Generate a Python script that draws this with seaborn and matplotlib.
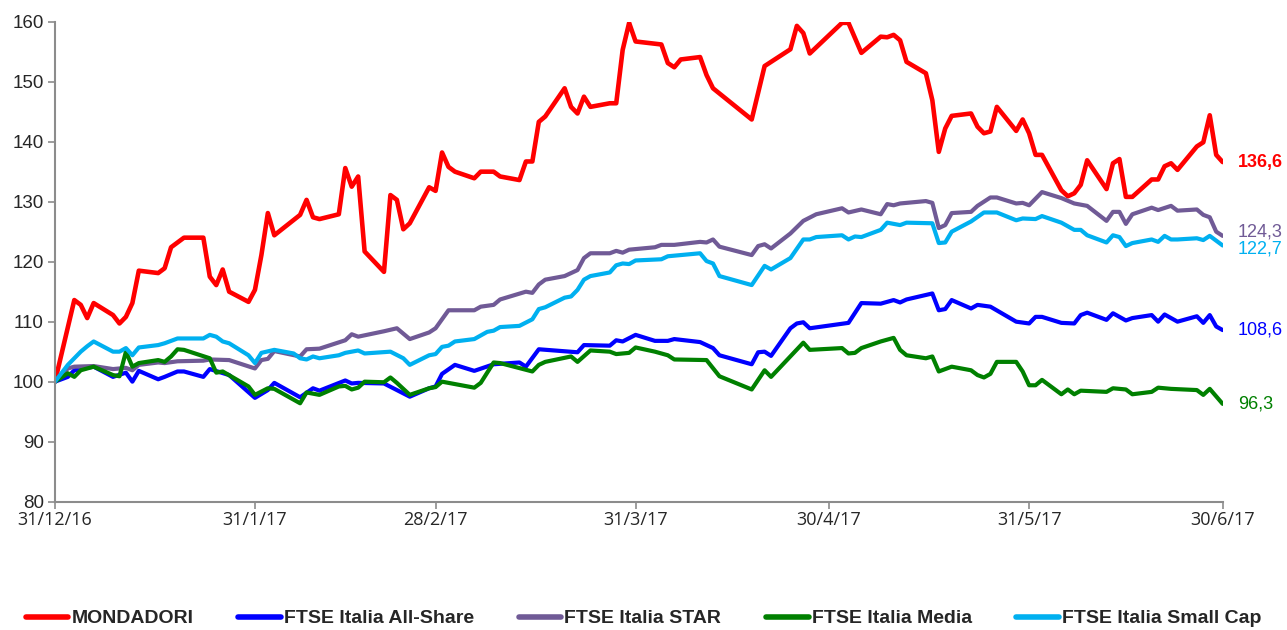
import matplotlib
matplotlib.use("Agg")
import matplotlib.pyplot as plt
import pandas as pd
import seaborn as sns

# days counted from 31/12/2016
START = "2016-12-31"

mondadori_days = [0, 3, 4, 5, 6, 9, 10, 11, 12, 13, 16, 17, 18, 20, 23, 24, 25, 26, 27, 30, 31, 32, 33, 34,
                  38, 39, 40, 41, 44, 45, 46, 47, 48, 51, 52, 53, 54, 55, 58, 59, 60, 61, 62, 65, 66, 68, 69,
                  72, 73, 74, 75, 76, 79, 80, 81, 82, 83, 86, 87, 88, 89, 90, 94, 95, 96, 97, 100, 101, 102,
                  108, 110, 111, 114, 115, 116, 117, 122, 123, 125, 128, 129, 130, 131, 132, 135, 136, 137,
                  138, 139, 142, 143, 144, 145, 146, 149, 150, 151, 152, 153, 156, 157, 158, 159, 160, 163,
                  164, 165, 166, 167, 170, 171, 172, 173, 174, 177, 178, 179, 180, 181]
mondadori = [100, 113.6, 112.8, 110.6, 113.1, 111.1, 109.7, 110.8, 113.1, 118.5, 118.1, 118.9, 122.4, 124.0,
             124.0, 117.5, 116.1, 118.7, 115.0, 113.3, 115.3, 121.1, 128.1, 124.4, 127.8, 130.3, 127.4, 127.1,
             127.9, 135.6, 132.5, 134.2, 121.7, 118.3, 131.1, 130.3, 125.4, 126.4, 132.4, 131.8, 138.2, 135.8,
             135.0, 133.9, 135.0, 135.0, 134.2, 133.6, 136.7, 136.7, 143.3, 144.2, 148.9, 145.8, 144.7, 147.5,
             145.8, 146.4, 146.4, 155.3, 159.8, 156.7, 156.2, 153.1, 152.4, 153.7, 154.1, 151.1, 148.9, 143.7,
             152.6, 153.3, 155.4, 159.3, 158.1, 154.7, 159.8, 159.8, 154.8, 157.5, 157.4, 157.8, 156.9, 153.3,
             151.4, 146.9, 138.3, 142.2, 144.3, 144.7, 142.5, 141.4, 141.7, 145.8, 141.8, 143.7, 141.4, 137.8,
             137.8, 131.9, 130.9, 131.4, 132.8, 136.9, 132.1, 136.4, 137.1, 130.8, 130.8, 133.7, 133.7, 135.9,
             136.4, 135.3, 139.2, 139.9, 144.4, 137.8, 136.6]

allshare_days = [0, 2, 3, 6, 9, 11, 12, 13, 16, 17, 19, 20, 23, 24, 27, 31, 33, 34, 38, 40, 41, 45, 46, 47,
                 51, 53, 55, 58, 59, 60, 62, 65, 68, 72, 73, 75, 81, 82, 86, 87, 88, 90, 93, 95, 96, 100, 102,
                 103, 108, 109, 110, 111, 114, 115, 116, 117, 123, 125, 128, 130, 131, 132, 136, 137, 138, 139,
                 142, 143, 145, 149, 151, 152, 153, 156, 158, 159, 160, 163, 164, 166, 167, 170, 171, 172, 174,
                 177, 178, 179, 180, 181]
allshare = [100, 100.8, 101.9, 102.5, 100.8, 101.5, 100.0, 101.8, 100.4, 100.8, 101.7, 101.7, 100.8, 102.1,
            101.1, 97.3, 98.6, 99.8, 97.4, 98.9, 98.5, 100.2, 99.7, 99.8, 99.7, 98.6, 97.5, 98.9, 99.2, 101.3,
            102.8, 101.8, 102.9, 103.2, 102.5, 105.4, 104.9, 106.1, 106.0, 106.9, 106.7, 107.8, 106.8, 106.8,
            107.1, 106.6, 105.6, 104.4, 102.9, 104.9, 105.0, 104.3, 108.9, 109.7, 109.9, 108.9, 109.8, 113.1,
            113.0, 113.6, 113.2, 113.7, 114.7, 111.9, 112.1, 113.6, 112.2, 112.8, 112.5, 110.0, 109.7, 110.8,
            110.8, 109.8, 109.7, 111.1, 111.5, 110.3, 111.4, 110.2, 110.6, 111.1, 110.0, 111.2, 110.0, 110.9,
            109.8, 111.1, 109.2, 108.6]

star_days = [0, 2, 3, 6, 9, 11, 12, 13, 16, 17, 19, 23, 24, 27, 31, 32, 33, 34, 38, 39, 41, 45, 46, 47, 51,
             53, 55, 58, 59, 61, 65, 66, 68, 69, 73, 74, 75, 76, 79, 81, 82, 83, 86, 87, 88, 89, 90, 93, 94,
             96, 100, 101, 102, 103, 108, 109, 110, 111, 114, 116, 118, 122, 123, 125, 128, 129, 130, 131, 135,
             136, 137, 138, 139, 142, 143, 145, 146, 149, 150, 151, 153, 156, 158, 160, 163, 164, 165, 166, 167,
             170, 171, 173, 174, 177, 178, 179, 180, 181]
star = [100, 102.2, 102.5, 102.6, 102.1, 102.3, 101.9, 102.8, 103.2, 103.1, 103.4, 103.5, 103.7, 103.6, 102.2,
        103.6, 103.8, 105.1, 104.2, 105.4, 105.5, 106.9, 107.9, 107.5, 108.4, 108.9, 107.1, 108.2, 108.9, 111.9,
        111.9, 112.5, 112.8, 113.7, 115.0, 114.8, 116.2, 117.0, 117.6, 118.6, 120.6, 121.4, 121.4, 121.8, 121.5,
        122.0, 122.1, 122.4, 122.8, 122.8, 123.3, 123.2, 123.7, 122.5, 121.1, 122.6, 122.9, 122.2, 124.7, 126.8,
        127.9, 128.9, 128.2, 128.7, 127.9, 129.6, 129.4, 129.7, 130.1, 129.8, 125.6, 126.1, 128.1, 128.3, 129.3,
        130.7, 130.7, 129.7, 129.8, 129.4, 131.6, 130.6, 129.7, 129.3, 126.8, 128.3, 128.3, 126.3, 127.9, 129.0,
        128.6, 129.3, 128.5, 128.7, 127.8, 127.4, 125.0, 124.3]

media_days = [0, 2, 3, 4, 6, 9, 10, 11, 12, 13, 16, 17, 18, 19, 20, 24, 25, 26, 30, 31, 33, 34, 38, 39, 41,
              44, 45, 46, 47, 48, 51, 52, 53, 55, 58, 59, 60, 65, 66, 68, 69, 74, 75, 76, 80, 81, 83, 86, 87,
              89, 90, 93, 95, 96, 101, 103, 108, 110, 111, 116, 117, 122, 123, 124, 125, 128, 130, 131, 132,
              135, 136, 137, 139, 142, 143, 144, 145, 146, 149, 150, 151, 152, 153, 156, 157, 158, 159, 163,
              164, 166, 167, 170, 171, 173, 177, 178, 179, 181]
media = [100, 101.4, 100.8, 101.9, 102.5, 101.1, 100.9, 105.0, 102.5, 103.1, 103.6, 103.3, 104.2, 105.4, 105.3,
         103.9, 101.5, 101.7, 99.2, 97.8, 98.9, 98.8, 96.4, 98.2, 97.8, 99.2, 99.3, 98.7, 99.0, 100.0, 99.9,
         100.7, 99.8, 97.8, 98.9, 99.1, 100.0, 99.0, 99.8, 103.2, 103.1, 101.7, 102.8, 103.3, 104.2, 103.3,
         105.2, 105.0, 104.6, 104.8, 105.7, 105.0, 104.4, 103.7, 103.6, 100.9, 98.7, 101.9, 100.8, 106.5, 105.3,
         105.6, 104.7, 104.8, 105.6, 106.7, 107.3, 105.3, 104.4, 103.9, 104.2, 101.7, 102.5, 101.9, 101.1, 100.7,
         101.3, 103.3, 103.3, 101.7, 99.4, 99.4, 100.3, 97.9, 98.7, 97.9, 98.5, 98.3, 98.9, 98.7, 97.9, 98.3,
         99.0, 98.8, 98.6, 97.8, 98.8, 96.3]

smallcap_days = [0, 2, 3, 4, 5, 6, 9, 10, 11, 12, 13, 16, 17, 19, 23, 24, 25, 26, 27, 30, 31, 32, 34, 37, 38,
                 39, 40, 41, 44, 45, 47, 48, 52, 54, 55, 58, 59, 60, 61, 62, 65, 67, 68, 69, 72, 74, 75, 76,
                 79, 80, 81, 82, 83, 86, 87, 88, 89, 90, 94, 95, 100, 101, 102, 103, 108, 110, 111, 114, 116,
                 117, 118, 122, 123, 124, 125, 128, 129, 131, 132, 136, 137, 138, 139, 142, 144, 146, 149, 150,
                 152, 153, 156, 158, 159, 160, 163, 164, 165, 166, 167, 170, 171, 172, 173, 174, 177, 178, 179,
                 181]
smallcap = [100, 102.8, 103.9, 105.0, 105.9, 106.7, 105.0, 105.0, 105.6, 104.4, 105.7, 106.1, 106.4, 107.2,
            107.2, 107.8, 107.5, 106.7, 106.4, 104.4, 103.1, 104.8, 105.3, 104.7, 103.9, 103.7, 104.2, 103.9,
            104.4, 104.8, 105.2, 104.7, 105.0, 103.9, 102.8, 104.4, 104.6, 105.8, 106.0, 106.7, 107.1, 108.3,
            108.5, 109.1, 109.3, 110.4, 112.1, 112.4, 114.0, 114.2, 115.3, 117.0, 117.6, 118.2, 119.4, 119.7,
            119.6, 120.2, 120.4, 120.9, 121.4, 120.1, 119.7, 117.6, 116.1, 119.3, 118.7, 120.6, 123.7, 123.7,
            124.1, 124.4, 123.7, 124.2, 124.1, 125.3, 126.5, 126.1, 126.5, 126.4, 123.1, 123.2, 125.0, 126.7,
            128.2, 128.2, 126.9, 127.2, 127.1, 127.6, 126.5, 125.3, 125.3, 124.4, 123.2, 124.4, 124.1, 122.6,
            123.1, 123.7, 123.3, 124.3, 123.7, 123.7, 123.9, 123.6, 124.3, 122.7]

series_names = ["MONDADORI", "FTSE Italia All-Share", "FTSE Italia STAR", "FTSE Italia Media",
                "FTSE Italia Small Cap"]
colors = ["#FF0000", "#0000FF", "#705A96", "#008000", "#00B0F0"]
end_labels = ["136,6", "108,6", "124,3", "96,3", "122,7"]

tick_dates = ["2016-12-31", "2017-01-31", "2017-02-28", "2017-03-31", "2017-04-30", "2017-05-31", "2017-06-30"]
tick_labels = ["31/12/16", "31/1/17", "28/2/17", "31/3/17", "30/4/17", "31/5/17", "30/6/17"]


def main():
    base = pd.Timestamp(START)
    raw = [
        (mondadori_days, mondadori),
        (allshare_days, allshare),
        (star_days, star),
        (media_days, media),
        (smallcap_days, smallcap),
    ]
    frames = []
    for name, (days, vals) in zip(series_names, raw):
        frames.append(pd.DataFrame({
            "date": base + pd.to_timedelta(days, unit="D"),
            "value": vals,
            "series": name,
        }))
    df = pd.concat(frames, ignore_index=True)

    sns.set_theme(style="white")
    plt.rcParams["font.family"] = ["Liberation Sans", "DejaVu Sans"]

    fig = plt.figure(figsize=(12.87, 6.3), dpi=100)
    ax = fig.add_axes([0.0427, 0.2037, 0.9073, 0.7619])

    palette = dict(zip(series_names, colors))
    sns.lineplot(data=df, x="date", y="value", hue="series", hue_order=series_names,
                 palette=palette, estimator=None, sort=True, linewidth=3.0, ax=ax, legend=True)
    ax.lines[0].set_linewidth(3.3)  # Mondadori a bit heavier

    ax.set_xlim(pd.Timestamp(tick_dates[0]), pd.Timestamp(tick_dates[-1]))
    ax.set_ylim(80, 160)
    ax.set_yticks(range(80, 161, 10))
    ax.set_xticks(pd.to_datetime(tick_dates))
    ax.set_xticklabels(tick_labels, fontsize=13, family=["Open Sans", "DejaVu Sans"])
    ax.tick_params(axis="y", labelsize=13.5, length=5, color="#8c8c8c", width=1.2, pad=3,
                   direction="out", left=True)
    ax.tick_params(axis="x", length=5, color="#8c8c8c", width=1.2, pad=2, direction="out", bottom=True)
    ax.set_xlabel("")
    ax.set_ylabel("")
    for side in ["top", "right"]:
        ax.spines[side].set_visible(False)
    for side in ["left", "bottom"]:
        ax.spines[side].set_color("#8c8c8c")
        ax.spines[side].set_linewidth(1.5)

    # end-of-period values, nudged apart where they crowd
    offsets = [0, 0, 3, 0, -2.5]
    last_date = pd.Timestamp(tick_dates[-1])
    for name, (days, vals), col, lab, dy in zip(series_names, raw, colors, end_labels, offsets):
        ax.annotate(lab, xy=(last_date, vals[-1]), xytext=(11, dy), textcoords="offset points",
                    color=col, fontsize=13, va="center", ha="left",
                    fontweight="bold" if name == "MONDADORI" else "normal",
                    annotation_clip=False)

    handles, labels = ax.get_legend_handles_labels()
    ax.legend_.remove()
    for h in handles:
        h.set_linewidth(4)
    fig.legend(handles, labels, loc="center", bbox_to_anchor=(0.5, 0.018), ncol=5, frameon=False,
               handlelength=2.2, handletextpad=0.15, columnspacing=2.3,
               prop={"family": ["Liberation Sans", "DejaVu Sans"], "weight": "bold", "size": 14})

    fig.savefig("out.png", dpi=100)


if __name__ == "__main__":
    main()
